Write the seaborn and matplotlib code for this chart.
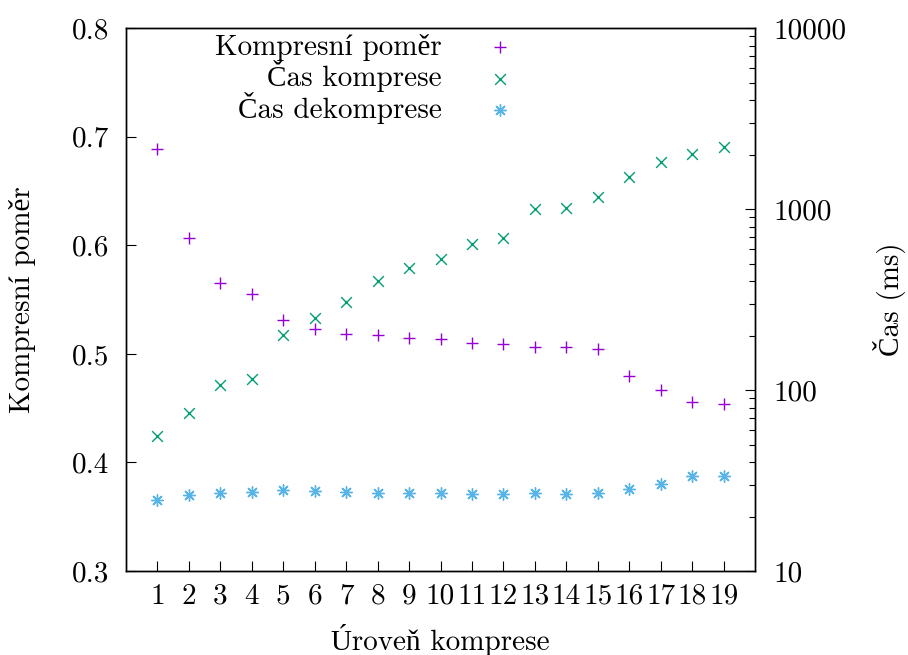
import numpy as np
import pandas as pd
import matplotlib
matplotlib.use('Agg')
import matplotlib.pyplot as plt
import matplotlib.ticker as mticker
import seaborn as sns

levels = list(range(1, 20))
ratio = [0.689, 0.607, 0.565, 0.555, 0.531, 0.523, 0.518, 0.517, 0.515, 0.514,
         0.510, 0.509, 0.506, 0.506, 0.504, 0.480, 0.467, 0.456, 0.454]
comp_ms = [55.7, 74.6, 106, 115, 201, 250, 306, 400, 472, 530,
           641, 692, 1000, 1014, 1165, 1500, 1820, 2014, 2203]
decomp_ms = [24.7, 26.3, 27.0, 27.3, 28.0, 27.7, 27.3, 27.0, 27.0, 27.0,
             26.6, 26.6, 27.0, 26.6, 27.0, 28.4, 30.2, 33.5, 33.5]

df = pd.DataFrame({'level': levels, 'ratio': ratio, 'comp': comp_ms, 'decomp': decomp_ms})

sns.set_style('ticks')
plt.rcParams['font.family'] = ['cmr10', 'Liberation Serif']
plt.rcParams['axes.unicode_minus'] = False
plt.rcParams['text.color'] = 'black'
plt.rcParams['axes.labelcolor'] = 'black'
plt.rcParams['xtick.color'] = 'black'
plt.rcParams['ytick.color'] = 'black'
fs = 21

fig = plt.figure(figsize=(9.08, 6.55), dpi=100)
ax = fig.add_axes([0.1388, 0.1282, 0.6927, 0.8290])
ax2 = ax.twinx()

purple, green, blue = '#9400D3', '#009E73', '#56B4E9'
sns.scatterplot(data=df, x='level', y='ratio', ax=ax, marker='+', color=purple,
                s=80, linewidth=1.0, label='Kompresní poměr', legend=False)
sns.scatterplot(data=df, x='level', y='comp', ax=ax2, marker='x', color=green,
                s=60, linewidth=1.0, label='Čas komprese', legend=False)
sns.scatterplot(data=df, x='level', y='decomp', ax=ax2, marker=(8, 2, 0), color=blue,
                s=70, linewidth=1.0, label='Čas dekomprese', legend=False)

ax.set_xlim(0, 20)
ax.set_ylim(0.3, 0.8)
ax.set_xticks(levels)
ax.set_yticks([0.3, 0.4, 0.5, 0.6, 0.7, 0.8])
ax.yaxis.set_major_formatter(mticker.FormatStrFormatter('%.1f'))
ax2.set_yscale('log')
ax2.set_ylim(10, 10000)
ax2.yaxis.set_major_locator(mticker.LogLocator(base=10))
ax2.yaxis.set_minor_locator(mticker.LogLocator(base=10, subs=np.arange(2, 10)))
ax2.yaxis.set_major_formatter(mticker.FuncFormatter(lambda v, p: '%d' % v))
ax2.yaxis.set_minor_formatter(mticker.NullFormatter())

for a in (ax, ax2):
    for sp in a.spines.values():
        sp.set_visible(True)
        sp.set_linewidth(1.0)
        sp.set_color('black')

ax.tick_params(axis='both', which='major', direction='in', length=7, width=0.8,
               labelsize=fs, top=False, right=False)
ax.tick_params(axis='y', pad=12)
ax.tick_params(axis='x', pad=9)
ax2.tick_params(axis='y', which='major', direction='in', length=7, width=0.8,
                labelsize=fs, pad=13)
ax2.tick_params(axis='y', which='minor', direction='in', length=4, width=0.8)

ax.set_xlabel('Úroveň komprese', fontsize=fs)
ax.set_ylabel('Kompresní poměr', fontsize=fs)
ax2.set_ylabel('Čas (ms)', fontsize=fs)
ax.xaxis.set_label_coords(0.5, -0.098)
ax.yaxis.set_label_coords(-0.1436, 0.5)
ax2.yaxis.set_label_coords(1.188, 0.5)

h1, l1 = ax.get_legend_handles_labels()
h2, l2 = ax2.get_legend_handles_labels()
ax2.legend(h1 + h2, l1 + l2, loc='upper right', bbox_to_anchor=(0.583, 0.948),
           bbox_transform=fig.transFigure, frameon=False, markerfirst=False,
           fontsize=fs, handletextpad=1.0, labelspacing=-0.02, borderpad=0,
           borderaxespad=0, handlelength=2)

fig.savefig('out.png', dpi=100)
